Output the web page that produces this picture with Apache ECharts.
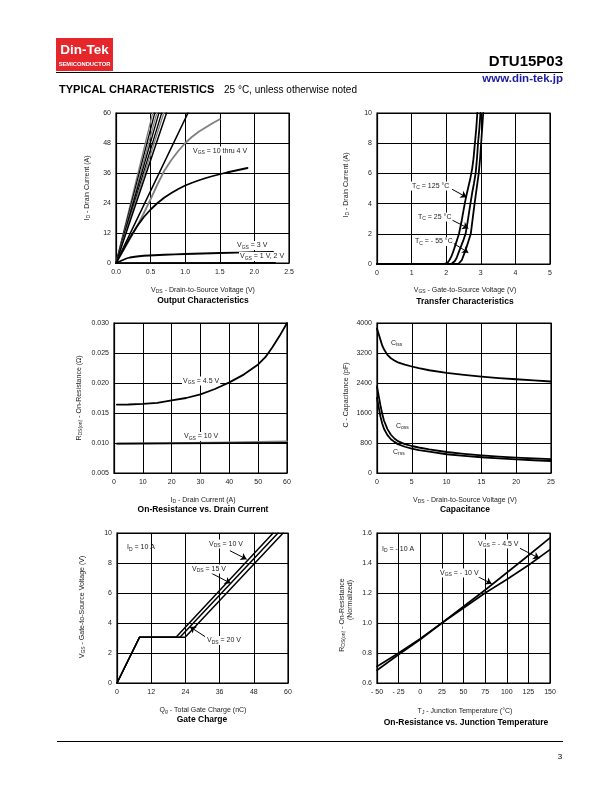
<!DOCTYPE html>
<html><head><meta charset="utf-8">
<script src="https://cdn.jsdelivr.net/npm/echarts@6/dist/echarts.min.js"></script>
<style>html,body{margin:0;padding:0;background:#fff}#c{width:612px;height:792px}</style>
</head><body><div id="c"></div>
<script>
// ---------- Output characteristics (VDS V, ID A) ----------
var outLine1 = [[0,0],[0.53,60]];
var outLine2 = [[0,0],[0.56,60]];
var outLine3 = [[0,0],[0.59,60]];
var outLine4 = [[0,0],[0.62,60]];
var outLine5 = [[0,0],[0.66,60]];
var outLine6 = [[0,0],[0.69,60]];
var outLine7 = [[0,0],[0.73,60]];
var outLine8 = [[0,0],[1.04,60]];
var outGray  = [[0,0],[0.1,4.8],[0.2,9.6],[0.3,14.5],[0.4,19.8],[0.5,25.5],[0.6,31.5],[0.7,37],[0.8,41.2],[0.9,44.8],[1.0,48],[1.1,50.5],[1.2,52.6],[1.3,54.3],[1.4,56],[1.5,57.5]];
var outBlack = [[0,0],[0.1,5],[0.2,10],[0.3,14.5],[0.4,18.3],[0.5,21.4],[0.6,24],[0.7,26.2],[0.8,28],[0.9,29.6],[1.0,31],[1.1,32.1],[1.2,33.1],[1.3,34],[1.4,34.8],[1.5,35.5],[1.6,36.2],[1.7,36.8],[1.8,37.4],[1.9,38]];
var outVgs3  = [[0,0],[0.05,0.6],[0.1,1.2],[0.15,1.8],[0.2,2.2],[0.3,2.6],[0.4,2.9],[0.55,3.1],[0.7,3.3],[0.85,3.45],[1.0,3.6],[1.25,3.8],[1.5,4.0],[1.75,4.15],[2.0,4.3],[2.27,4.4]];
var outVgs12 = [[0,0],[2.3,0.1]];
// ---------- Transfer characteristics (VGS V, ID A) ----------
var tr125 = [[0,0],[1.95,0],[2.0,0.03],[2.05,0.12],[2.1,0.28],[2.15,0.5],[2.2,0.8],[2.25,1.15],[2.3,1.5],[2.37,2],[2.45,2.9],[2.52,3.8],[2.57,4.4],[2.63,5.0],[2.7,5.7],[2.75,6.3],[2.79,7.0],[2.83,8],[2.87,9],[2.90,10]];
var tr25  = [[0,0],[2.15,0],[2.2,0.05],[2.25,0.2],[2.3,0.4],[2.35,0.7],[2.4,1.0],[2.45,1.3],[2.5,1.6],[2.56,2],[2.62,2.8],[2.66,3.4],[2.70,4],[2.75,4.7],[2.8,5.3],[2.85,6],[2.89,7],[2.92,8],[2.96,9],[2.99,10]];
var trM55 = [[0,0],[2.35,0],[2.4,0.06],[2.45,0.25],[2.5,0.55],[2.55,0.85],[2.6,1.2],[2.65,1.55],[2.71,2],[2.76,2.9],[2.82,4],[2.88,5],[2.94,6],[2.98,7],[3.01,8],[3.04,9],[3.07,10]];
var trArrows = [[[2.17,4.95],[2.59,4.42]],[[2.17,2.91],[2.64,2.36]],[[2.21,1.37],[2.64,0.75]]];
// ---------- On-resistance vs drain current (ID A, RDS ohm) ----------
var rds45  = [[1,0.0164],[5,0.01642],[10,0.01652],[15,0.0167],[20,0.0171],[25,0.0175],[30,0.0181],[35,0.0190],[40,0.0201],[45,0.0214],[50,0.0231],[52.5,0.0243],[55,0.0260],[57.5,0.0279],[60,0.0300]];
var rds10  = [[1,0.0099],[20,0.00993],[40,0.00998],[60,0.01003]];
var rds10b = [[1,0.0099],[20,0.00998],[40,0.0101],[60,0.0103]];
// ---------- Capacitance (VDS V, C pF) ----------
var ciss = [[0,3850],[0.25,3700],[0.5,3550],[0.75,3400],[1,3300],[1.5,3150],[2,3060],[2.5,3000],[3,2950],[4,2890],[5,2840],[6,2795],[7.5,2740],[10,2670],[12.5,2615],[15,2570],[17.5,2530],[20,2500],[22.5,2470],[25,2440]];
var coss = [[0,2300],[0.25,2050],[0.5,1800],[0.75,1580],[1,1400],[1.5,1170],[2,1020],[2.5,920],[3,850],[4,770],[5,720],[6,680],[7.5,630],[10,560],[12.5,510],[15,470],[17.5,435],[20,410],[22.5,390],[25,370]];
var crss = [[0,2000],[0.25,1750],[0.5,1500],[0.75,1320],[1,1180],[1.5,1010],[2,900],[2.5,830],[3,770],[4,700],[5,650],[6,610],[7.5,570],[10,500],[12.5,455],[15,420],[17.5,390],[20,365],[22.5,340],[25,320]];
// ---------- Gate charge (Qg nC, VGS V) ----------
var gc10 = [[0,0],[7.9,3.05],[20.7,3.05],[54.8,10]];
var gc15 = [[0,0],[7.9,3.05],[22.1,3.05],[56.5,10]];
var gc20 = [[0,0],[7.9,3.05],[23.9,3.05],[58.3,10]];
var gcArrows = [[[39.6,8.82],[45.5,8.25]],[[33.2,7.31],[39.9,6.65]],[[30.9,3.09],[25.6,3.75]]];
// ---------- On-resistance vs junction temperature (TJ C, normalized) ----------
var tjA = [[-50,0.685],[-25,0.79],[0,0.89],[25,1.0],[50,1.11],[75,1.22],[100,1.335],[125,1.45],[150,1.567]];
var tjB = [[-50,0.71],[-25,0.80],[0,0.895],[25,1.0],[50,1.10],[75,1.20],[100,1.29],[125,1.385],[150,1.489]];
var tjArrows = [[[115.3,1.498],[137.6,1.431]],[[61,1.325],[82.6,1.262]]];
var tjTicks = {'-50':'- 50','-25':'- 25'};

var F = '"Liberation Sans", Arial, Helvetica, sans-serif';
var G = [
  {left:116, top:113, width:173, height:150},
  {left:377, top:113, width:173, height:151},
  {left:114, top:323, width:173, height:150},
  {left:377, top:323, width:174, height:150},
  {left:117, top:533, width:171, height:150},
  {left:377, top:533, width:173, height:150}
];
var grids = G.map(function(g){ return Object.assign({show:true, borderColor:'#000', borderWidth:1.2, containLabel:false}, g); });

function plain(v){ return String(v); }
function ax(i, min, max, interval, fmt, isY){
  return {type:'value', gridIndex:i, min:min, max:max, interval:interval,
    axisLine:{show:true, onZero:false, lineStyle:{color:'#000', width:1.2}},
    axisTick:{show:false},
    splitLine:{show:true, lineStyle:{color:'#000', width:1}},
    axisLabel:{fontSize:7, color:'#222', fontFamily:F, margin:isY?5:6, formatter:fmt||plain}};
}
var xAxes = [
  ax(0,0,2.5,0.5,function(v){return v.toFixed(1);}),
  ax(1,0,5,1),
  ax(2,0,60,10),
  ax(3,0,25,5),
  ax(4,0,60,12),
  ax(5,-50,150,25,function(v){return tjTicks[String(v)] || String(v);})
];
var yAxes = [
  ax(0,0,60,12,null,true),
  ax(1,0,10,2,null,true),
  ax(2,0.005,0.030,0.005,function(v){return v.toFixed(3);},true),
  ax(3,0,4000,800,null,true),
  ax(4,0,10,2,null,true),
  ax(5,0.6,1.6,0.2,function(v){return v.toFixed(1);},true)
];

function ln(i, data, color, width){
  return {type:'line', xAxisIndex:i, yAxisIndex:i, data:data, showSymbol:false, symbol:'none',
    smooth:false, silent:true, sampling:null,
    lineStyle:{color:color||'#000', width:width||1.6, join:'round', cap:'round'}};
}
function arrows(s, list){
  s.markLine = {silent:true, symbol:['none','arrow'], symbolSize:6, animation:false,
    lineStyle:{color:'#000', width:1, type:'solid'}, label:{show:false},
    data:list.map(function(a){ return [{coord:a[0]},{coord:a[1]}]; })};
  return s;
}
var GR = '#808080';
var series = [
  ln(0,outLine1,GR,1.3), ln(0,outLine2,'#000',1.3), ln(0,outLine3,GR,1.3), ln(0,outLine4,'#000',1.3),
  ln(0,outLine5,'#000',1.3), ln(0,outLine6,GR,1.3), ln(0,outLine7,'#000',1.5), ln(0,outLine8,'#000',1.6),
  ln(0,outGray,GR,1.8), ln(0,outBlack,'#000',1.8), ln(0,outVgs3,'#000',1.8), ln(0,outVgs12,'#000',1.6),
  arrows(ln(1,tr125,'#000',1.8),trArrows), ln(1,tr25,'#000',1.8), ln(1,trM55,'#000',1.8),
  ln(2,rds45,'#000',1.8), ln(2,rds10b,GR,1.6), ln(2,rds10,'#000',1.8),
  ln(3,ciss,'#000',1.8), ln(3,coss,'#000',1.8), ln(3,crss,'#000',1.8),
  arrows(ln(4,gc10,'#000',1.5),gcArrows), ln(4,gc15,'#000',1.5), ln(4,gc20,'#000',1.5),
  arrows(ln(5,tjA,'#000',1.6),tjArrows), ln(5,tjB,'#000',1.6)
];

// ---------- text helpers ----------
var RICH = {
  n:{fontSize:7, fontFamily:F, fill:'#222'},
  s:{fontSize:5, fontFamily:F, fill:'#222', padding:[4,0,0,0]}
};
function T(x, y, text, o){
  o = o || {};
  var st = {text:text, x:0, y:0, align:o.align||'left', verticalAlign:'middle',
    fontSize:o.size||7, fontFamily:F, fontWeight:o.weight||'normal', fill:o.color||'#222', rich:RICH};
  if (o.bg){ st.backgroundColor = '#fff'; st.padding = [0,1,0,1]; }
  return {type:'text', x:x, y:y, rotation:o.rot||0, silent:true, z:100, style:st};
}
function title(x, y, text){ return T(x, y, text, {align:'center', size:8.5, weight:'bold', color:'#000'}); }
var R90 = Math.PI/2;

var graphics = [
  // header
  {type:'rect', shape:{x:56, y:38, width:57, height:33}, style:{fill:'#e5262a'}, silent:true},
  T(84.5, 50.5, 'Din-Tek', {align:'center', size:13.5, weight:'bold', color:'#fff'}),
  T(84.5, 64, 'SEMICONDUCTOR', {align:'center', size:5.8, weight:'bold', color:'#fff'}),
  T(563, 62, 'DTU15P03', {align:'right', size:15, weight:'bold', color:'#000'}),
  {type:'line', shape:{x1:56, y1:72.5, x2:563, y2:72.5}, style:{stroke:'#000', lineWidth:1}, silent:true},
  T(563, 79, 'www.din-tek.jp', {align:'right', size:11.5, weight:'bold', color:'#1c1c9c'}),
  T(59, 90, 'TYPICAL CHARACTERISTICS', {size:11, weight:'bold', color:'#000'}),
  T(224, 90, '25 °C, unless otherwise noted', {size:10, color:'#000'}),
  // footer
  {type:'line', shape:{x1:57, y1:741.5, x2:563, y2:741.5}, style:{stroke:'#000', lineWidth:1}, silent:true},
  T(560, 757, '3', {align:'center', size:8, color:'#000'}),

  // chart 1
  T(87, 188, '{n|I}{s|D}{n| - Drain Current (A)}', {align:'center', rot:R90}),
  T(203, 290, '{n|V}{s|DS}{n| - Drain-to-Source Voltage (V)}', {align:'center'}),
  title(203, 301, 'Output Characteristics'),
  T(192, 151, '{n|V}{s|GS}{n| = 10 thru 4 V}', {bg:true}),
  T(236, 245.5, '{n|V}{s|GS}{n| = 3 V}', {bg:true}),
  T(239, 256.5, '{n|V}{s|GS}{n| = 1 V, 2 V}', {bg:true}),

  // chart 2
  T(346, 185, '{n|I}{s|D}{n| - Drain Current (A)}', {align:'center', rot:R90}),
  T(465, 290, '{n|V}{s|GS}{n| - Gate-to-Source Voltage (V)}', {align:'center'}),
  title(465, 302, 'Transfer Characteristics'),
  T(411, 186, '{n|T}{s|C}{n| = 125 °C}', {bg:true}),
  T(417, 217, '{n|T}{s|C}{n| = 25 °C}', {bg:true}),
  T(414, 241.5, '{n|T}{s|C}{n| = - 55 °C}', {bg:true}),

  // chart 3
  T(79, 398, '{n|R}{s|DS(on)}{n| - On-Resistance (Ω)}', {align:'center', rot:R90}),
  T(203, 500, '{n|I}{s|D}{n| - Drain Current (A)}', {align:'center'}),
  title(203, 510, 'On-Resistance vs. Drain Current'),
  T(182, 381, '{n|V}{s|GS}{n| = 4.5 V}', {bg:true}),
  T(183, 436.5, '{n|V}{s|GS}{n| = 10 V}', {bg:true}),

  // chart 4
  T(346, 395, 'C - Capacitance (pF)', {align:'center', rot:R90}),
  T(465, 500, '{n|V}{s|DS}{n| - Drain-to-Source Voltage (V)}', {align:'center'}),
  title(465, 510, 'Capacitance'),
  T(391, 343, '{n|C}{s|iss}', {}),
  T(396, 426, '{n|C}{s|oss}', {}),
  T(393, 452, '{n|C}{s|rss}', {}),

  // chart 5
  T(82, 607, '{n|V}{s|GS}{n| - Gate-to-Source Voltage (V)}', {align:'center', rot:R90}),
  T(203, 710, '{n|Q}{s|g}{n| - Total Gate Charge (nC)}', {align:'center'}),
  title(202, 720, 'Gate Charge'),
  T(127, 547.5, '{n|I}{s|D}{n| = 10 A}', {}),
  T(208, 544, '{n|V}{s|DS}{n| = 10 V}', {bg:true}),
  T(191, 569, '{n|V}{s|DS}{n| = 15 V}', {bg:true}),
  T(206, 640.5, '{n|V}{s|DS}{n| = 20 V}', {bg:true}),

  // chart 6
  T(342, 615, '{n|R}{s|DS(on)}{n| - On-Resistance}', {align:'center', rot:R90}),
  T(350, 600, '(Normalized)', {align:'center', rot:R90}),
  T(465, 711, '{n|T}{s|J}{n| - Junction Temperature (°C)}', {align:'center'}),
  title(466, 723, 'On-Resistance vs. Junction Temperature'),
  T(382, 549, '{n|I}{s|D}{n| = - 10 A}', {}),
  T(477, 544, '{n|V}{s|GS}{n| = - 4.5 V}', {bg:true}),
  T(439, 573, '{n|V}{s|GS}{n| = - 10 V}', {bg:true})
];

var chart = echarts.init(document.getElementById('c'), null, {renderer:'canvas'});
chart.setOption({
  animation:false,
  backgroundColor:'#fff',
  grid:grids, xAxis:xAxes, yAxis:yAxes, series:series, graphic:graphics
});
</script></body></html>
